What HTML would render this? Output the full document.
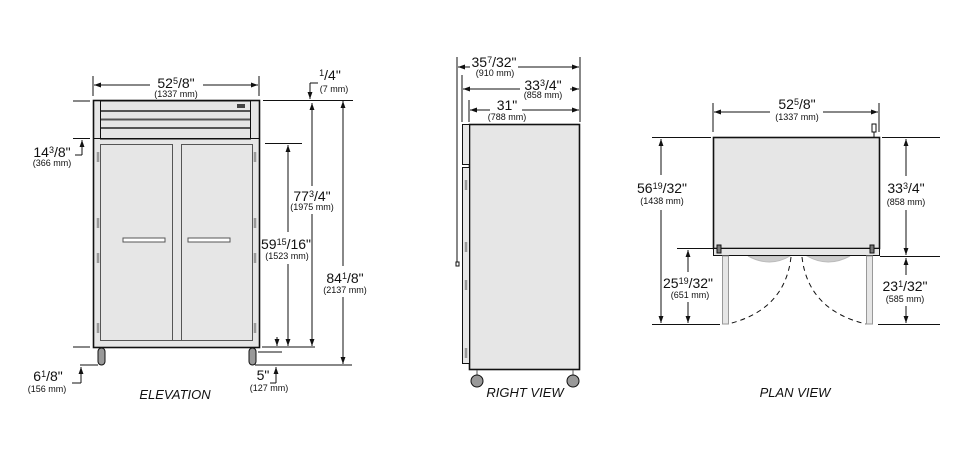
<!DOCTYPE html>
<html><head><meta charset="utf-8"><style>
html,body{margin:0;padding:0;background:#fff;}
svg{display:block;}
text{font-family:"Liberation Sans",sans-serif;fill:#111;}
.b{font-size:14px;}
.s{font-size:9px;}
.t{font-size:13px;font-style:italic;}
</style></head><body>
<svg width="957" height="456" viewBox="0 0 957 456" xmlns="http://www.w3.org/2000/svg">
<defs>
<marker id="a" viewBox="0 0 10 10" refX="10" refY="5" markerWidth="7" markerHeight="7" orient="auto-start-reverse"><path d="M0,1.5 L10,5 L0,8.5 z" fill="#111"/></marker>
</defs>
<g stroke="#111" stroke-width="1" fill="none">
<!-- ELEVATION -->
<rect x="93.5" y="100.5" width="166" height="247" fill="#e6e6e6" stroke-width="1.6"/>
<rect x="100.5" y="101" width="150" height="38" fill="#e6e6e6"/>
<line x1="101" y1="111" x2="250" y2="111" stroke-width="2" stroke="#555"/>
<line x1="101" y1="119.5" x2="250" y2="119.5" stroke-width="2" stroke="#555"/>
<line x1="101" y1="128" x2="250" y2="128" stroke-width="2" stroke="#555"/>
<line x1="93" y1="138.5" x2="259" y2="138.5"/>
<rect x="237" y="104" width="8" height="4" fill="#444" stroke="none"/>
<rect x="100.5" y="144.5" width="72" height="196" fill="#e6e6e6" stroke="#555"/>
<rect x="181.5" y="144.5" width="71" height="196" fill="#e6e6e6" stroke="#555"/>
<line x1="100" y1="340.5" x2="253" y2="340.5" stroke="#555"/>
<rect x="123" y="238" width="42" height="4" fill="#fff" stroke="#555"/>
<rect x="188" y="238" width="42" height="4" fill="#fff" stroke="#555"/>
<g stroke="#999" stroke-width="2.5">
<line x1="98" y1="152" x2="98" y2="162"/><line x1="98" y1="218" x2="98" y2="228"/><line x1="98" y1="253" x2="98" y2="263"/><line x1="98" y1="323" x2="98" y2="333"/>
<line x1="255" y1="152" x2="255" y2="162"/><line x1="255" y1="218" x2="255" y2="228"/><line x1="255" y1="253" x2="255" y2="263"/><line x1="255" y1="323" x2="255" y2="333"/>
</g>
<rect x="98" y="348" width="7" height="17" rx="3.5" fill="#999"/>
<rect x="249" y="348" width="7" height="17" rx="3.5" fill="#999"/>
<!-- elevation dims -->
<line x1="93" y1="76" x2="93" y2="96"/><line x1="259" y1="76" x2="259" y2="96"/>
<line x1="94" y1="85" x2="150" y2="85" marker-start="url(#a)"/><line x1="203" y1="85" x2="258" y2="85" marker-end="url(#a)"/>
<line x1="73" y1="101" x2="90" y2="101"/><line x1="73" y1="138.5" x2="90" y2="138.5"/>
<line x1="82" y1="155" x2="82" y2="140" marker-end="url(#a)"/><line x1="82" y1="155" x2="75" y2="155"/>
<line x1="73" y1="347" x2="90" y2="347"/><line x1="80" y1="365" x2="98" y2="365"/>
<line x1="81" y1="383" x2="81" y2="367" marker-end="url(#a)"/><line x1="81" y1="383" x2="72" y2="383"/>
<line x1="263" y1="100.5" x2="353" y2="100.5"/>
<line x1="310" y1="83" x2="310" y2="99" marker-end="url(#a)"/><line x1="310" y1="83" x2="318" y2="83"/>
<line x1="265" y1="143.5" x2="302" y2="143.5"/>
<line x1="262" y1="347" x2="315" y2="347"/><line x1="258" y1="352" x2="282" y2="352"/><line x1="255" y1="365" x2="352" y2="365"/>
<line x1="288" y1="232" x2="288" y2="145" marker-end="url(#a)"/><line x1="288" y1="264" x2="288" y2="346" marker-end="url(#a)"/>
<line x1="312" y1="186" x2="312" y2="103" marker-end="url(#a)"/><line x1="312" y1="214" x2="312" y2="346" marker-end="url(#a)"/>
<line x1="343" y1="266" x2="343" y2="101" marker-end="url(#a)"/><line x1="343" y1="297" x2="343" y2="364" marker-end="url(#a)"/>
<line x1="277" y1="337" x2="277" y2="346" marker-end="url(#a)"/>
<line x1="276" y1="383" x2="276" y2="367" marker-end="url(#a)"/><line x1="276" y1="383" x2="270" y2="383"/>
<!-- RIGHT VIEW -->
<rect x="469.5" y="124.5" width="110" height="245" fill="#e6e6e6" stroke-width="1.6"/>
<rect x="462.5" y="124.5" width="7" height="40" fill="#e6e6e6"/>
<rect x="462.5" y="167.5" width="7" height="196" fill="#e6e6e6"/>
<line x1="457" y1="57" x2="457" y2="264"/><rect x="456" y="262" width="3" height="4" fill="#fff"/>
<g stroke="#999" stroke-width="2.5"><line x1="466" y1="180" x2="466" y2="190"/><line x1="466" y1="242" x2="466" y2="252"/><line x1="466" y1="280" x2="466" y2="290"/><line x1="466" y1="348" x2="466" y2="358"/></g>
<line x1="477" y1="370" x2="477" y2="380" stroke="#555"/><line x1="573" y1="370" x2="573" y2="380" stroke="#555"/>
<circle cx="477" cy="381" r="6" fill="#999"/><circle cx="573" cy="381" r="6" fill="#999"/>
<line x1="580" y1="57" x2="580" y2="122"/><line x1="462" y1="75" x2="462" y2="122"/><line x1="469" y1="100" x2="469" y2="122"/>
<line x1="458" y1="67" x2="470" y2="67" marker-start="url(#a)"/><line x1="518" y1="67" x2="579" y2="67" marker-end="url(#a)"/>
<line x1="463" y1="89" x2="520" y2="89" marker-start="url(#a)"/><line x1="570" y1="89" x2="579" y2="89" marker-end="url(#a)"/>
<line x1="470" y1="110" x2="490" y2="110" marker-start="url(#a)"/><line x1="522" y1="110" x2="579" y2="110" marker-end="url(#a)"/>
<!-- PLAN VIEW -->
<path d="M748,256 Q770,268 790,256 z M807,256 Q828,268 850,256 z" fill="#ccc" stroke="#bbb"/>
<rect x="713.5" y="137.5" width="166" height="111" fill="#e6e6e6" stroke-width="1.6"/>
<rect x="713.5" y="248.5" width="166" height="7" fill="#e6e6e6"/>
<rect x="717" y="245" width="4" height="8" fill="#777"/><rect x="870" y="245" width="4" height="8" fill="#777"/>
<rect x="872" y="124" width="4" height="8" fill="#fff"/><line x1="874" y1="132" x2="874" y2="137"/>
<rect x="722.5" y="256" width="6" height="68" fill="#e6e6e6" stroke="#999"/>
<rect x="866.5" y="256" width="6" height="68" fill="#e6e6e6" stroke="#999"/>
<path d="M791,257 Q785,310 728,324" stroke-dasharray="5,4"/>
<path d="M802,257 Q808,310 866,324" stroke-dasharray="5,4"/>
<line x1="713" y1="103" x2="713" y2="132"/><line x1="879" y1="103" x2="879" y2="132"/>
<line x1="714" y1="112" x2="770" y2="112" marker-start="url(#a)"/><line x1="823" y1="112" x2="878" y2="112" marker-end="url(#a)"/>
<line x1="652" y1="137.5" x2="711" y2="137.5"/><line x1="677" y1="248.5" x2="713" y2="248.5"/><line x1="652" y1="324.5" x2="720" y2="324.5"/>
<line x1="661" y1="175" x2="661" y2="139" marker-end="url(#a)"/><line x1="661" y1="210" x2="661" y2="323" marker-end="url(#a)"/>
<line x1="688" y1="272" x2="688" y2="250" marker-end="url(#a)"/><line x1="688" y1="302" x2="688" y2="323" marker-end="url(#a)"/>
<line x1="882" y1="137.5" x2="940" y2="137.5"/><line x1="880" y1="256.5" x2="940" y2="256.5"/><line x1="878" y1="324.5" x2="940" y2="324.5"/>
<line x1="906" y1="176" x2="906" y2="139" marker-end="url(#a)"/><line x1="906" y1="210" x2="906" y2="255" marker-end="url(#a)"/>
<line x1="906" y1="275" x2="906" y2="258" marker-end="url(#a)"/><line x1="906" y1="306" x2="906" y2="323" marker-end="url(#a)"/>
</g>
<!-- texts -->
<g text-anchor="middle">
<text x="176" y="88" class="b">52<tspan font-size="9" dy="-4">5</tspan><tspan dy="4">/8"</tspan></text>
<text x="176" y="97" class="s">(1337 mm)</text>
<text x="52" y="157" class="b">14<tspan font-size="9" dy="-4">3</tspan><tspan dy="4">/8"</tspan></text>
<text x="52" y="166" class="s">(366 mm)</text>
<text x="48" y="381" class="b">6<tspan font-size="9" dy="-4">1</tspan><tspan dy="4">/8"</tspan></text>
<text x="47" y="392" class="s">(156 mm)</text>
<text x="330" y="80" class="b"><tspan font-size="9" dy="-4">1</tspan><tspan dy="4">/4"</tspan></text>
<text x="334" y="92" class="s">(7 mm)</text>
<text x="312" y="201" class="b">77<tspan font-size="9" dy="-4">3</tspan><tspan dy="4">/4"</tspan></text>
<text x="312" y="210" class="s">(1975 mm)</text>
<text x="286" y="249" class="b">59<tspan font-size="9" dy="-4">15</tspan><tspan dy="4">/16"</tspan></text>
<text x="287" y="259" class="s">(1523 mm)</text>
<text x="345" y="283" class="b">84<tspan font-size="9" dy="-4">1</tspan><tspan dy="4">/8"</tspan></text>
<text x="345" y="293" class="s">(2137 mm)</text>
<text x="263" y="380" class="b">5"</text>
<text x="269" y="391" class="s">(127 mm)</text>
<text x="175" y="399" class="t">ELEVATION</text>
<text x="494" y="67" class="b">35<tspan font-size="9" dy="-4">7</tspan><tspan dy="4">/32"</tspan></text>
<text x="495" y="76" class="s">(910 mm)</text>
<text x="543" y="90" class="b">33<tspan font-size="9" dy="-4">3</tspan><tspan dy="4">/4"</tspan></text>
<text x="543" y="98" class="s">(858 mm)</text>
<text x="507" y="110" class="b">31"</text>
<text x="507" y="120" class="s">(788 mm)</text>
<text x="525" y="397" class="t">RIGHT VIEW</text>
<text x="797" y="109" class="b">52<tspan font-size="9" dy="-4">5</tspan><tspan dy="4">/8"</tspan></text>
<text x="797" y="120" class="s">(1337 mm)</text>
<text x="662" y="193" class="b">56<tspan font-size="9" dy="-4">19</tspan><tspan dy="4">/32"</tspan></text>
<text x="662" y="204" class="s">(1438 mm)</text>
<text x="688" y="288" class="b">25<tspan font-size="9" dy="-4">19</tspan><tspan dy="4">/32"</tspan></text>
<text x="690" y="298" class="s">(651 mm)</text>
<text x="906" y="193" class="b">33<tspan font-size="9" dy="-4">3</tspan><tspan dy="4">/4"</tspan></text>
<text x="906" y="205" class="s">(858 mm)</text>
<text x="905" y="291" class="b">23<tspan font-size="9" dy="-4">1</tspan><tspan dy="4">/32"</tspan></text>
<text x="905" y="302" class="s">(585 mm)</text>
<text x="795" y="397" class="t">PLAN VIEW</text>
</g>
</svg>
</body></html>
